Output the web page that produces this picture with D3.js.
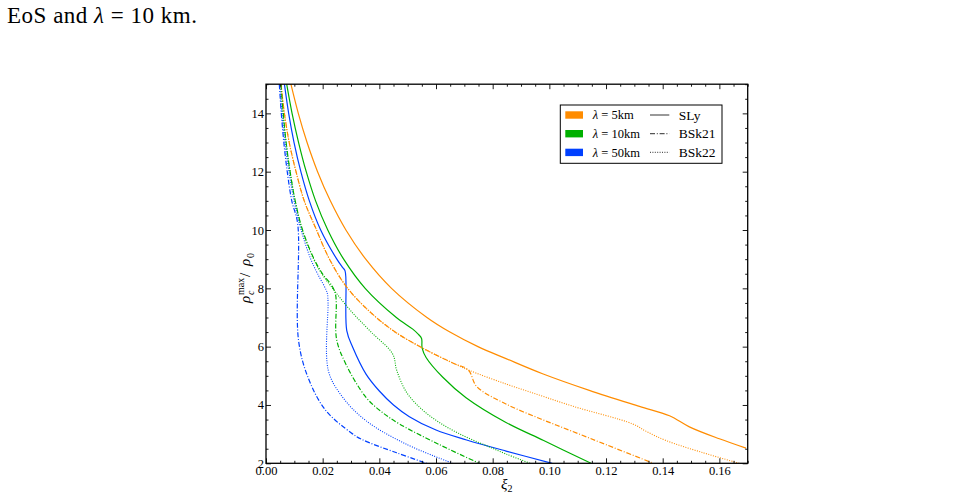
<!DOCTYPE html>
<html>
<head>
<meta charset="utf-8">
<script src="https://cdn.jsdelivr.net/npm/d3@7"></script>
<style>
  body { margin: 0; background: #fff; }
  svg { display: block; }
  text { font-family: "Liberation Serif", "DejaVu Serif", serif; fill: #000; }
</style>
</head>
<body>
<script>
// ---- data ----
const lambdaLabels = ["5km", "10km", "50km"]
const eosLabels = ["SLy", "BSk21", "BSk22"]
const xTicks = [0.00, 0.02, 0.04, 0.06, 0.08, 0.10, 0.12, 0.14, 0.16]
const yTicks = [2, 4, 6, 8, 10, 12, 14]

// [xi_2, rho_c^max / rho_0]
const sly5 = [[0.0088,15],[0.0114,14],[0.0145,13],[0.0182,12],[0.0227,11],[0.0282,10],[0.0352,9],[0.0443,8],
  [0.0568,7],[0.0649,6.5],[0.0748,6],[0.0847,5.59],[0.0976,5.07],[0.1141,4.5],[0.1318,3.95],[0.1424,3.63],
  [0.1494,3.25],[0.16,2.84],[0.1694,2.52]]
const sly10 = [[0.0073,15],[0.0092,14],[0.0115,13],[0.0142,12],[0.0175,11],[0.0218,10],[0.0274,9],[0.035,8],
  [0.046,7],[0.0518,6.6],[0.0538,6.42],[0.0549,6.28],[0.0551,5.95],[0.0565,5.63],[0.0624,4.95],[0.0706,4.25],
  [0.0847,3.4],[0.098,2.78],[0.1147,2.0]]
const sly50 = [[0.0065,15],[0.008,14],[0.0099,13],[0.0123,12],[0.0153,11],[0.0193,10],[0.025,9],[0.027,8.72],
  [0.0279,8.6],[0.0285,6.55],[0.0306,5.98],[0.0353,5.06],[0.040,4.48],[0.045,4.0],[0.0506,3.6],[0.06,3.14],
  [0.0708,2.8],[0.0847,2.42],[0.101,2.0]]
const bsk21_5 = [[0.0053,15],[0.0065,14],[0.0082,13],[0.0106,12],[0.0135,11],[0.0176,10.05],[0.0224,9.0],
  [0.0282,8.08],[0.0353,7.32],[0.0447,6.56],[0.0553,5.95],[0.0659,5.44],[0.0714,5.2],[0.0744,4.63],
  [0.085,4.02],[0.097,3.52],[0.108,3.1],[0.12,2.64],[0.1367,2.0]]
const bsk21_10 = [[0.0053,15],[0.0061,14],[0.0071,13],[0.0085,12],[0.0103,11],[0.0129,10],[0.017,9],[0.02,8.49],
  [0.0232,8.1],[0.0245,7.8],[0.0248,7.5],[0.0249,6.26],[0.0282,5.4],[0.0353,4.26],[0.041,3.75],
  [0.0471,3.35],[0.0612,2.64],[0.0753,2.0]]
const bsk21_50 = [[0.0047,15],[0.0054,14],[0.0063,13],[0.0075,12],[0.0091,11],[0.0112,10.2],[0.0115,6.2],
  [0.0153,4.83],[0.0212,3.8],[0.030,3.05],[0.0338,2.82],[0.0461,2.36],[0.0567,2.0]]
const bsk22_5 = [[0.0053,15],[0.0065,14],[0.0082,13],[0.0106,12],[0.0135,11],[0.0176,10.05],[0.0224,9.0],
  [0.0282,8.08],[0.0353,7.32],[0.0447,6.56],[0.0553,5.95],[0.0659,5.44],[0.0714,5.2],[0.0847,4.72],
  [0.0967,4.33],[0.1082,3.96],[0.1294,3.35],[0.1343,3.09],[0.1412,2.78],[0.154,2.37],[0.167,2.0]]
const bsk22_10 = [[0.0052,15],[0.006,14],[0.0071,13],[0.0085,12],[0.0103,11],[0.0128,10],[0.0168,9],[0.0197,8.5],
  [0.0243,7.9],[0.0302,7.2],[0.0371,6.5],[0.0447,5.75],[0.0461,5.2],[0.0495,4.45],[0.055,3.85],
  [0.062,3.35],[0.07,2.93],[0.0779,2.6],[0.0847,2.32],[0.0932,2.0]]
const bsk22_50 = [[0.0049,15],[0.0056,14],[0.0067,13],[0.0081,12],[0.0099,11],[0.0124,10],[0.0158,9],[0.0182,8.5],
  [0.0212,7.95],[0.0217,7.8],[0.0219,7.5],[0.022,5.18],[0.0271,4.26],[0.0353,3.46],[0.0494,2.66],[0.0659,2.0]]

// styles
const colors = ["#ff8c00", "#00b000", "#0040ff"]
const dashes = [null, "5,1.8,1,1.8", "1,1.4"]

const curves = [
  {lam: 0, eos: 0, pts: sly5}, {lam: 1, eos: 0, pts: sly10}, {lam: 2, eos: 0, pts: sly50},
  {lam: 0, eos: 1, pts: bsk21_5}, {lam: 1, eos: 1, pts: bsk21_10}, {lam: 2, eos: 1, pts: bsk21_50},
  {lam: 0, eos: 2, pts: bsk22_5}, {lam: 1, eos: 2, pts: bsk22_10}, {lam: 2, eos: 2, pts: bsk22_50},
]

const W = 972, H = 498
const plot = {left: 266, top: 84.2, right: 747.7, bottom: 463.3}

const svg = d3.select("body").append("svg")
  .attr("width", W)
  .attr("height", H)

// caption fragment above the figure
const cap = svg.append("text")
  .attr("x", 7)
  .attr("y", 23)
  .attr("textLength", 190)
  .attr("lengthAdjust", "spacing")
  .style("font-size", "23px")
cap.append("tspan").text("EoS and ")
cap.append("tspan").style("font-style", "italic").text("λ")
cap.append("tspan").text(" = 10 km.")

const x = d3.scaleLinear()
  .domain([0, 0.17])
  .range([plot.left, plot.right])

const y = d3.scaleLinear()
  .domain([2, 15])
  .range([plot.bottom, plot.top])

svg.append("clipPath")
  .attr("id", "clip")
  .append("rect")
  .attr("x", plot.left)
  .attr("y", plot.top)
  .attr("width", plot.right - plot.left)
  .attr("height", plot.bottom - plot.top)

const line = d3.line()
  .x(d => x(d[0]))
  .y(d => y(d[1]))
  .curve(d3.curveCatmullRom.alpha(0.5))

svg.append("g")
  .attr("clip-path", "url(#clip)")
  .selectAll("path")
  .data(curves)
  .join("path")
  .attr("d", d => line(d.pts))
  .attr("fill", "none")
  .attr("stroke", d => colors[d.lam])
  .attr("stroke-width", d => d.eos == 2 ? 1.1 : 1.2)
  .attr("stroke-dasharray", d => dashes[d.eos])

// axes: ticks inward on all four sides
const xMinor = d3.range(0, 0.1701, 0.005).filter(v => Math.abs(v / 0.02 - Math.round(v / 0.02)) > 1e-6)
const yMinor = d3.range(2, 15.01, 0.5).filter(v => v % 2 != 0)

function ticks(axis, tr, values, size, labels) {
  const g = svg.append("g")
    .attr("transform", tr)
    .call(axis.tickValues(values).tickSize(-size).tickPadding(3)
      .tickFormat(labels ? d3.format(labels) : ""))
  g.select(".domain").remove()
  g.selectAll("line").attr("stroke", "#000").attr("stroke-width", 0.9)
  g.selectAll("text").style("font-size", "12.5px").attr("fill", "#000")
  return g
}

ticks(d3.axisBottom(x), `translate(0,${plot.bottom})`, xTicks, 5, ".2f")
ticks(d3.axisBottom(x), `translate(0,${plot.bottom})`, xMinor, 2.5)
ticks(d3.axisTop(x), `translate(0,${plot.top})`, xTicks, 5)
ticks(d3.axisTop(x), `translate(0,${plot.top})`, xMinor, 2.5)
ticks(d3.axisLeft(y), `translate(${plot.left},0)`, yTicks, 5, "d")
  .selectAll("text").attr("x", -2)
ticks(d3.axisLeft(y), `translate(${plot.left},0)`, yMinor, 2.5)
ticks(d3.axisRight(y), `translate(${plot.right},0)`, yTicks, 5)
ticks(d3.axisRight(y), `translate(${plot.right},0)`, yMinor, 2.5)

svg.append("rect")
  .attr("x", plot.left)
  .attr("y", plot.top)
  .attr("width", plot.right - plot.left)
  .attr("height", plot.bottom - plot.top)
  .attr("fill", "none")
  .attr("stroke", "#000")
  .attr("stroke-width", 1.3)

// x label  xi_2
const xl = svg.append("text")
  .attr("x", 501)
  .attr("y", 489)
  .style("font-size", "15px")
xl.append("tspan").style("font-style", "italic").text("ξ")
xl.append("tspan").attr("dy", 3).style("font-size", "10px").text("2")

// y label  rho_c^max / rho_0
const yl = svg.append("g")
  .attr("transform", "translate(250,270) rotate(-90)")
yl.append("text").attr("x", -33).attr("y", 0)
  .style("font-size", "15px").style("font-style", "italic").text("ρ")
yl.append("text").attr("x", -25).attr("y", -6)
  .style("font-size", "10px").text("max")
yl.append("text").attr("x", -25).attr("y", 4)
  .style("font-size", "10px").style("font-style", "italic").text("c")
yl.append("text").attr("x", -7).attr("y", 0)
  .style("font-size", "15px").text("/")
yl.append("text").attr("x", 4).attr("y", 0)
  .style("font-size", "15px").style("font-style", "italic").text("ρ")
yl.append("text").attr("x", 12).attr("y", 4)
  .style("font-size", "10px").text("0")

// legend
const legend = svg.append("g")
  .attr("transform", "translate(560.3,105)")

legend.append("rect")
  .attr("width", 161.7)
  .attr("height", 58.3)
  .attr("fill", "#fff")
  .attr("stroke", "#000")
  .attr("stroke-width", 1)

const rowY = i => 10 + i * 18.7

lambdaLabels.forEach((lab, i) => {
  legend.append("rect")
    .attr("x", 5)
    .attr("y", rowY(i) - 3.7)
    .attr("width", 17.7)
    .attr("height", 7.4)
    .attr("fill", colors[i])
  const t = legend.append("text")
    .attr("x", 32.4)
    .attr("y", rowY(i) + 4.2)
    .style("font-size", "12.5px")
  t.append("tspan").style("font-style", "italic").text("λ")
  t.append("tspan").text(" = " + lab)
})

eosLabels.forEach((lab, i) => {
  legend.append("line")
    .attr("x1", 89.7)
    .attr("x2", 109)
    .attr("y1", rowY(i))
    .attr("y2", rowY(i))
    .attr("stroke", "#555")
    .attr("stroke-width", 1.2)
    .attr("stroke-dasharray", dashes[i])
  legend.append("text")
    .attr("x", 118.4)
    .attr("y", rowY(i) + 4.5)
    .style("font-size", "13.5px")
    .text(lab)
})
</script>
</body>
</html>
